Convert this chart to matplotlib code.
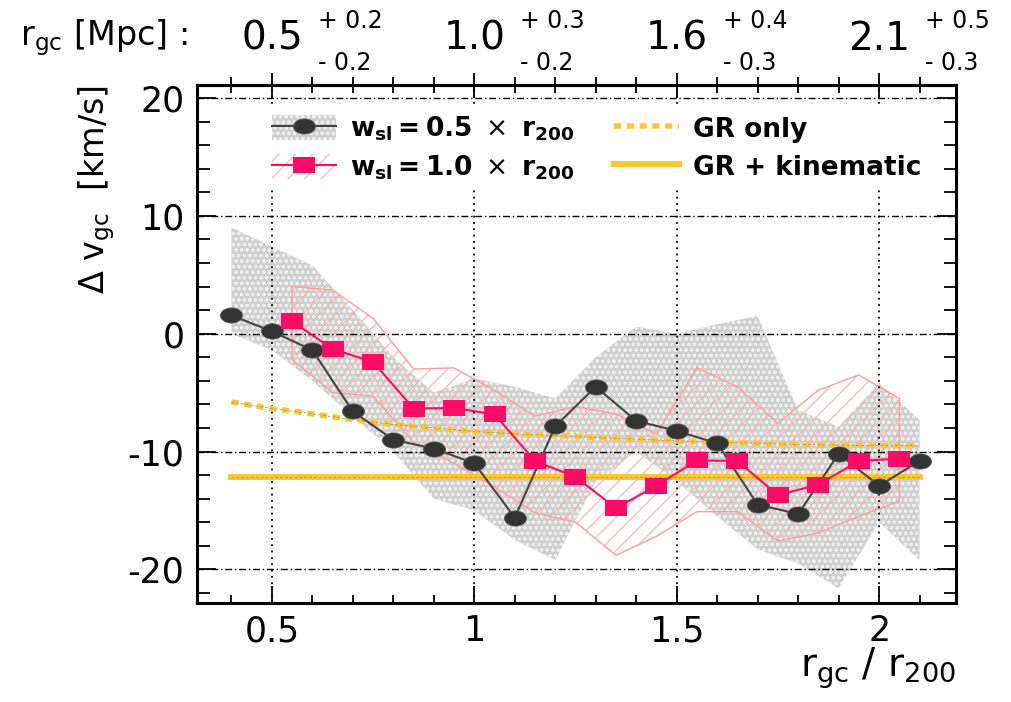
import numpy as np
import matplotlib
matplotlib.use("Agg")
import matplotlib.pyplot as plt
import matplotlib.transforms as mtransforms
from matplotlib.path import Path
from matplotlib.patches import Patch
from matplotlib.lines import Line2D
from matplotlib.ticker import MultipleLocator, FormatStrFormatter

plt.rcParams['font.family'] = 'DejaVu Sans'
plt.rcParams['axes.unicode_minus'] = False
plt.rcParams['hatch.linewidth'] = 0.8

# w_sl = 0.5 r200 : stacked velocity shift and its error band
r_half = [0.4, 0.5, 0.6, 0.7, 0.8, 0.9, 1.0, 1.1, 1.2,
          1.3, 1.4, 1.5, 1.6, 1.7, 1.8, 1.9, 2.0, 2.1]
dv_half = [1.55, 0.2, -1.4, -6.6, -9.0, -9.75, -11.0, -15.6, -7.85,
           -4.5, -7.4, -8.25, -9.3, -14.5, -15.3, -10.2, -12.9, -10.8]
hi_half = [9.0, 7.4, 5.8, 2.0, -2.0, -5.0, -3.8, -4.5, -5.5,
           -2.0, 0.6, 0.0, 0.8, 1.5, -6.5, -7.9, -4.2, -7.3]
lo_half = [0.0, -1.4, -4.0, -7.0, -10.0, -14.0, -15.0, -17.5, -19.2,
           -12.5, -10.0, -12.5, -15.5, -18.3, -19.5, -21.6, -16.0, -19.2]

# w_sl = 1.0 r200
r_one = [0.55, 0.65, 0.75, 0.85, 0.95, 1.05, 1.15, 1.25,
         1.35, 1.45, 1.55, 1.65, 1.75, 1.85, 1.95, 2.05]
dv_one = [1.05, -1.3, -2.4, -6.35, -6.3, -6.85, -10.8, -12.15,
          -14.8, -12.9, -10.75, -10.8, -13.7, -12.8, -10.8, -10.6]
hi_one = [4.0, 3.7, 1.3, -3.0, -2.9, -4.8, -7.0, -6.2,
          -6.8, -8.5, -2.9, -4.5, -7.6, -4.8, -3.5, -5.5]
lo_one = [-2.2, -5.0, -5.3, -9.2, -11.0, -13.0, -15.2, -16.0,
          -18.8, -17.2, -15.1, -15.1, -17.6, -16.9, -15.5, -14.2]

# model predictions
dv_gr_only = [-5.8, -6.35, -6.8, -7.3, -7.7, -8.0, -8.3, -8.5, -8.65,
              -8.8, -8.95, -9.1, -9.2, -9.3, -9.4, -9.45, -9.5, -9.5]
dv_gr_kin = [-12.2] * len(r_half)

# physical radius for the top scale
mpc_at = [0.5, 1.0, 1.5, 2.0]
mpc_val = ["0.5", "1.0", "1.6", "2.1"]
mpc_up = ["+ 0.2", "+ 0.3", "+ 0.4", "+ 0.5"]
mpc_dn = ["- 0.2", "- 0.2", "- 0.3", "- 0.3"]

W, H = 1012, 702
fig = plt.figure(figsize=(W / 100, H / 100), dpi=100)
ax = fig.add_axes([197 / W, 1 - 603 / H, (956 - 197) / W, (603 - 85) / H])
ax.set_xlim(0.315, 2.19)
ax.set_ylim(-22.85, 21.1)

# markers are squashed a bit vertically
circ = Path.unit_circle()
oval = Path(circ.vertices * [1.45, 1.0], circ.codes)
box = Path([(-1.4, -1), (1.4, -1), (1.4, 1), (-1.4, 1), (-1.4, -1)],
           [Path.MOVETO, Path.LINETO, Path.LINETO, Path.LINETO, Path.CLOSEPOLY])

gray_face, gray_hatch = '#cfcfcf', '#f0f0f0'
pink_hatch, pink_edge = '#ffb0b0', '#ff9c9c'
pink, dark = '#ff0a64', '#333333'
gold = '#ffc72e'

ax.fill_between(r_half, lo_half, hi_half, facecolor=gray_face,
                edgecolor=gray_hatch, hatch='ooo', linewidth=0, zorder=1)
poly_x = np.r_[r_one, r_one[::-1]]
poly_y = np.r_[hi_one, lo_one[::-1]]
ax.fill(poly_x, poly_y, facecolor='none', edgecolor=pink_hatch, hatch='//',
        linewidth=0, zorder=1.5)
ax.fill(poly_x, poly_y, facecolor='none', edgecolor=pink_edge,
        linewidth=1.0, zorder=1.6)

ax.plot(r_half, dv_gr_only, color=gold, lw=4.0, dashes=(1.3, 1.0), zorder=3)
ax.plot(r_half, dv_gr_only, color='#888888', lw=0.5, ls=(0, (4, 3)), zorder=3.1)
ax.plot(r_half, dv_gr_kin, color=gold, lw=4.3, zorder=3)
ax.plot(r_half, dv_gr_kin, color='#888888', lw=0.5, ls=(0, (4, 3)), zorder=3.1)

ax.plot(r_half, dv_half, color='#444444', lw=1.5, marker=oval, ms=15.8,
        mfc=dark, mec='#555555', mew=0.6, zorder=4)
ax.plot(r_one, dv_one, color=pink, lw=1.5, marker=box, ms=15.5,
        mfc=pink, mec=pink, mew=0, zorder=5)

# frame, ticks and grid
ax.set_axisbelow(False)
for s in ax.spines.values():
    s.set_linewidth(2.2)
ax.xaxis.set_major_locator(MultipleLocator(0.5))
ax.xaxis.set_minor_locator(MultipleLocator(0.1))
ax.yaxis.set_major_locator(MultipleLocator(10))
ax.yaxis.set_minor_locator(MultipleLocator(2))
ax.xaxis.set_major_formatter(FormatStrFormatter('%g'))
ax.tick_params(axis='x', which='both', direction='in', top=False,
               labelsize=25, pad=8, width=1.3)
ax.tick_params(axis='x', which='major', length=12)
ax.tick_params(axis='x', which='minor', length=6)
ax.tick_params(axis='y', which='both', direction='in', right=True,
               labelsize=25, pad=9, width=1.3)
ax.tick_params(axis='y', which='major', length=14)
ax.tick_params(axis='y', which='minor', length=9)
ax.grid(True, which='major', axis='x', color='black', lw=1.3, ls=(0, (1, 2.5)))
ax.grid(True, which='major', axis='y', color='black', lw=1.0, ls=(0, (5, 2, 1, 2)))

top = ax.secondary_xaxis('top')
top.xaxis.set_major_locator(MultipleLocator(0.5))
top.xaxis.set_minor_locator(MultipleLocator(0.1))
top.tick_params(axis='x', which='both', direction='inout', labeltop=False, width=1.3)
top.tick_params(axis='x', which='major', length=18)
top.tick_params(axis='x', which='minor', length=11)
top.spines['top'].set_linewidth(2.2)

ax.set_xlabel(r"r$_{\rm gc}$ / r$_{\rm 200}$", fontsize=28, loc='right', labelpad=-2)
ax.set_ylabel(r"$\Delta$ v$_{\rm gc}$  [km/s]", fontsize=24, loc='top', labelpad=8)

# legend
h_half = (Patch(facecolor=gray_face, edgecolor=gray_hatch, hatch='ooo', lw=0),
          Line2D([], [], color='#444444', lw=1.5, marker=oval, ms=15.8,
                 mfc=dark, mec='#555555', mew=0.6))
h_one = (Patch(facecolor='none', edgecolor=pink_hatch, hatch='//', lw=0),
         Line2D([], [], color=pink, lw=1.5, marker=box, ms=15.5, mfc=pink, mew=0))
h_gr = Line2D([], [], color=gold, lw=4.0, dashes=(1.3, 1.0))
h_kin = Line2D([], [], color=gold, lw=4.3)
labels = [r"$\mathbf{w_{sl} = 0.5}\ \times\ \mathbf{r_{200}}$",
          r"$\mathbf{w_{sl} = 1.0}\ \times\ \mathbf{r_{200}}$",
          "GR only", "GR + kinematic"]
leg = ax.legend([h_half, h_one, h_gr, h_kin], labels, ncol=2, loc='upper left',
                bbox_to_anchor=(0.088, 0.958), prop={'weight': 'bold', 'size': 19},
                frameon=True, fancybox=False, facecolor='white', framealpha=1,
                handlelength=2.45, handleheight=1.1, handletextpad=0.53,
                columnspacing=1.5, labelspacing=0.4, borderpad=0.3,
                borderaxespad=0)
leg.get_frame().set_linewidth(0)
leg.set_zorder(6)

# physical radius labels above the frame
trans = mtransforms.blended_transform_factory(ax.transData, fig.transFigure)
fig.text(20 / W, 1 - 45 / H, r"r$_{\rm gc}$ [Mpc] :", fontsize=24)
for x, v, up, dn in zip(mpc_at, mpc_val, mpc_up, mpc_dn):
    ax.text(x, 1 - 50 / H, v, transform=trans, ha='center', va='baseline',
            fontsize=28, clip_on=False)
    t_up = mtransforms.offset_copy(trans, fig, x=46, y=22, units='dots')
    t_dn = mtransforms.offset_copy(trans, fig, x=46, y=-20, units='dots')
    ax.text(x, 1 - 50 / H, up, transform=t_up, ha='left', va='baseline',
            fontsize=17, clip_on=False)
    ax.text(x, 1 - 50 / H, dn, transform=t_dn, ha='left', va='baseline',
            fontsize=17, clip_on=False)

fig.savefig("out.png", dpi=100)
